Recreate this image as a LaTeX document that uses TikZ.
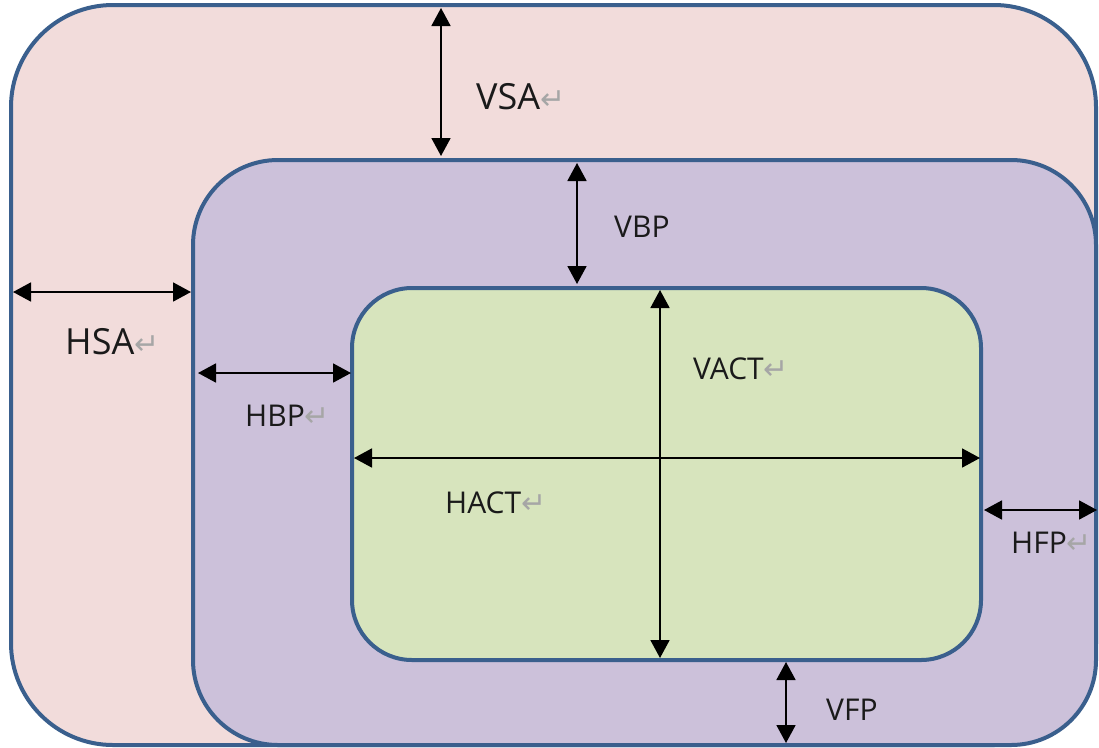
\documentclass[tikz,border=0pt]{standalone}
\usepackage{fontspec}
\setmainfont{Open Sans}
\newfontfamily\symfont{DejaVu Sans}
\usetikzlibrary{arrows.meta}
\definecolor{edgeblue}{HTML}{3A5F8D}
\definecolor{outerfill}{HTML}{F2DCDB}
\definecolor{midfill}{HTML}{CCC1DA}
\definecolor{innerfill}{HTML}{D7E4BD}
\definecolor{txt}{HTML}{1A1A1A}
\newcommand{\retmark}{{\symfont\color[HTML]{A6A6A6}\fontsize{30}{30}\selectfont ↵}}
\begin{document}
\begin{tikzpicture}[x=1pt,y=-1pt,
  box/.style={draw=edgeblue,line width=4pt},
  dim/.style={line width=1.8pt,{Triangle[length=18pt,width=19pt]}-{Triangle[length=18pt,width=19pt]}},
  lbl/.style={anchor=west,inner sep=0pt,text=txt,font=\fontsize{30}{32}\selectfont},
  biglbl/.style={lbl,font=\fontsize{36}{38}\selectfont}]
\useasboundingbox (0,0) rectangle (1099,747);
% boxes
\path[box,fill=outerfill,rounded corners=102pt] (11,5) rectangle (1096,745);
\path[box,fill=midfill,rounded corners=85pt] (193,160) rectangle (1096,745);
\path[box,fill=innerfill,rounded corners=60pt] (352,288) rectangle (981,660);
% arrow end points
\coordinate (vsaA) at (441,8);   \coordinate (vsaB) at (441,156);
\coordinate (vbpA) at (577,163); \coordinate (vbpB) at (577,284);
\coordinate (hsaA) at (13,292);  \coordinate (hsaB) at (191,292);
\coordinate (hbpA) at (198,373); \coordinate (hbpB) at (351,373);
\coordinate (vactA) at (660,290); \coordinate (vactB) at (660,658);
\coordinate (hactA) at (354,458); \coordinate (hactB) at (980,458);
\coordinate (hfpA) at (984,510); \coordinate (hfpB) at (1097,510);
\coordinate (vfpA) at (786,662); \coordinate (vfpB) at (786,743);
% arrows
\draw[dim] (vsaA) -- (vsaB);
\draw[dim] (vbpA) -- (vbpB);
\draw[dim] (hsaA) -- (hsaB);
\draw[dim] (hbpA) -- (hbpB);
\draw[dim] (vactA) -- (vactB);
\draw[dim] (hactA) -- (hactB);
\draw[dim] (hfpA) -- (hfpB);
\draw[dim] (vfpA) -- (vfpB);
% labels
\node[biglbl] (vsa) at (476,97) {VSA\retmark};
\node[lbl] (vbp) at (614,227) {VBP};
\node[biglbl] (hsa) at (65,342) {HSA\retmark};
\node[lbl] (hbp) at (245,416) {HBP\retmark};
\node[lbl] (vact) at (693,369) {VACT\retmark};
\node[lbl] (hact) at (445,503) {HACT\retmark};
\node[lbl] (hfp) at (1011,543) {HFP\retmark};
\node[lbl] (vfp) at (826,710) {VFP};
\end{tikzpicture}
\end{document}
